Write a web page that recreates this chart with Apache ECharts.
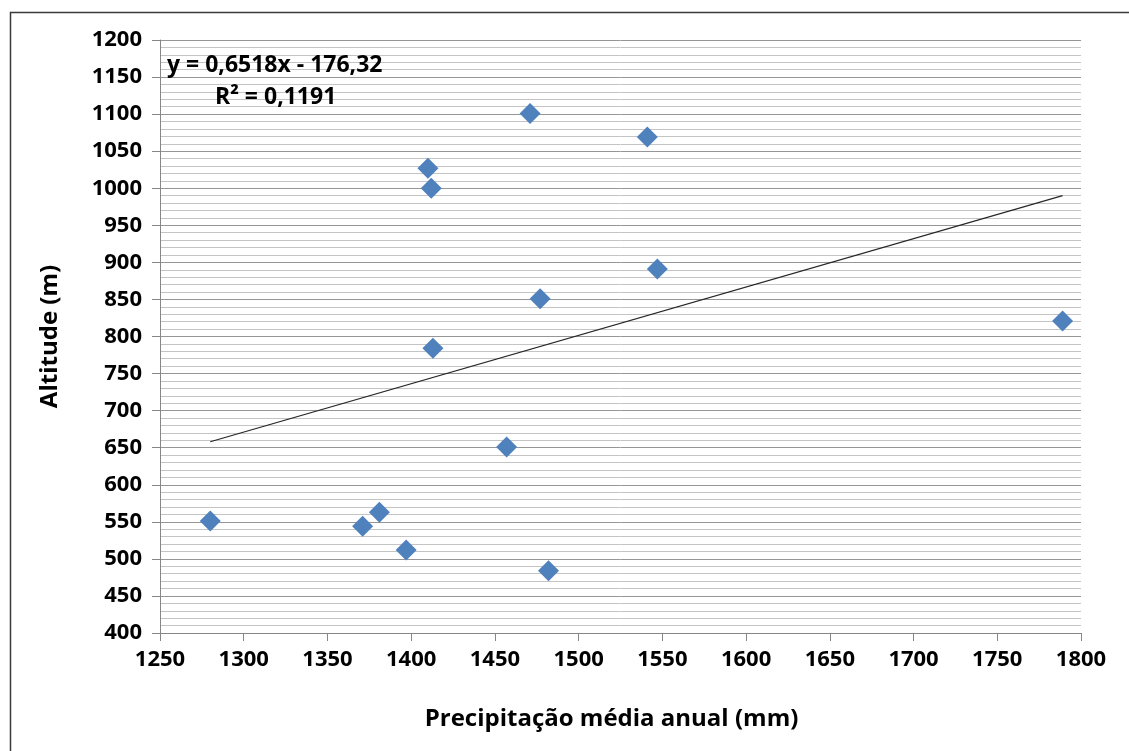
<!DOCTYPE html>
<html>
<head>
<meta charset="utf-8">
<script src="https://cdn.jsdelivr.net/npm/echarts@6/dist/echarts.min.js"></script>
<style>
html,body{margin:0;padding:0;background:#fff;}
#chart{width:1129px;height:751px;}
</style>
</head>
<body>
<div id="chart"></div>
<script>
// Data
const precipitation = [1280, 1371, 1381, 1397, 1410, 1412, 1413, 1457, 1471, 1477, 1482, 1541, 1547, 1789];
const altitude      = [551, 544, 563, 512, 1027, 1000, 784, 651, 1101, 851, 484, 1069, 891, 821];
const trendX = [1280, 1789];
const trendY = [658, 990];
const equationText = 'y = 0,6518x - 176,32';
const r2Text = 'R² = 0,1191';
const xTitle = 'Precipitação média anual (mm)';
const yTitle = 'Altitude (m)';

const points = precipitation.map((x, i) => [x, altitude[i]]);
const trend = trendX.map((x, i) => [x, trendY[i]]);

const FONT = 'Open Sans';
const plain = v => String(v);
const chart = echarts.init(document.getElementById('chart'), null, {renderer: 'canvas'});
chart.setOption({
  animation: false,
  backgroundColor: '#ffffff',
  grid: {left: 160, right: 48, top: 40, bottom: 118},
  xAxis: {
    type: 'value', min: 1250, max: 1800, interval: 50,
    name: xTitle, nameLocation: 'middle', nameGap: 74,
    nameTextStyle: {fontFamily: FONT, fontWeight: 'bold', fontSize: 24, color: '#000', padding: [0, 18, 0, 0]},
    axisLine: {show: true, lineStyle: {color: '#868686', width: 1}},
    axisTick: {show: true, length: 8, lineStyle: {color: '#868686'}},
    axisLabel: {fontFamily: FONT, fontWeight: 'bold', fontSize: 22, color: '#000', margin: 16, formatter: plain},
    splitLine: {show: false}
  },
  yAxis: {
    type: 'value', min: 400, max: 1200, interval: 50,
    name: yTitle, nameLocation: 'middle', nameGap: 98,
    nameTextStyle: {fontFamily: FONT, fontWeight: 'bold', fontSize: 24, color: '#000'},
    axisLine: {show: true, lineStyle: {color: '#868686', width: 1}},
    axisTick: {show: true, length: 8, lineStyle: {color: '#868686'}},
    axisLabel: {fontFamily: FONT, fontWeight: 'bold', fontSize: 22, color: '#000', margin: 18, formatter: plain},
    splitLine: {show: true, lineStyle: {color: '#969696', width: 1}},
    minorTick: {show: false, splitNumber: 5},
    minorSplitLine: {show: true, lineStyle: {color: '#c4c4c4', width: 1}}
  },
  series: [
    {
      type: 'line', data: trend, symbol: 'none', silent: true,
      lineStyle: {color: '#262626', width: 1.2}, z: 2
    },
    {
      type: 'scatter', data: points, symbol: 'diamond', symbolSize: [21, 21],
      itemStyle: {color: '#4f81bd', opacity: 1}, z: 3
    }
  ],
  graphic: [
    {type: 'rect', left: 8, top: 10, shape: {width: 1300, height: 900},
     style: {fill: 'none', stroke: '#3a3a3a', lineWidth: 1.5}, silent: true, z: -1},
    {type: 'text', left: 167, top: 54,
     style: {text: equationText, font: 'bold 23px "Open Sans"', fill: '#000'}, z: 10},
    {type: 'text', left: 215, top: 86,
     style: {text: r2Text, font: 'bold 23px "Open Sans"', fill: '#000'}, z: 10}
  ]
});
</script>
</body>
</html>
